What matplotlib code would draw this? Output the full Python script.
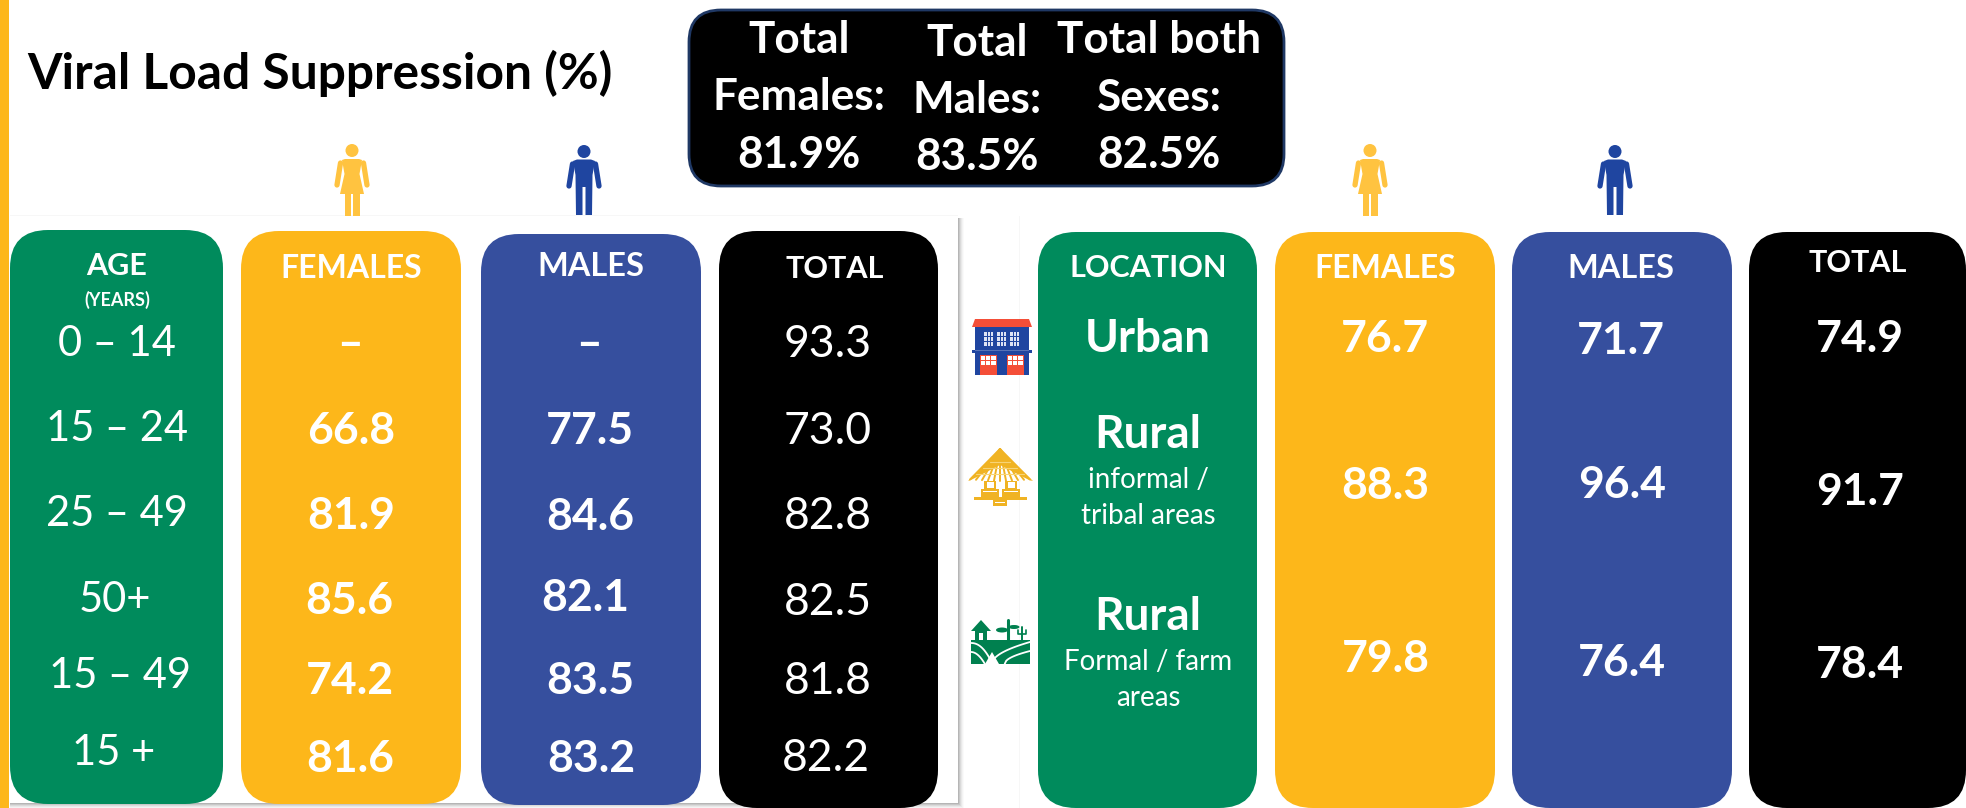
import matplotlib
matplotlib.use("Agg")
import matplotlib.pyplot as plt
from matplotlib.patches import FancyBboxPatch, Rectangle, Polygon, Ellipse
import numpy as np

plt.rcParams['font.family'] = ['Lato', 'DejaVu Sans']

# ---------- data ----------
age_groups = ["0 – 14", "15 – 24", "25 – 49", "50+", "15 – 49", "15 +"]
females_age = ["–", "66.8", "81.9", "85.6", "74.2", "81.6"]
males_age = ["–", "77.5", "84.6", "82.1", "83.5", "83.2"]
total_age = ["93.3", "73.0", "82.8", "82.5", "81.8", "82.2"]
females_loc = ["76.7", "88.3", "79.8"]
males_loc = ["71.7", "96.4", "76.4"]
total_loc = ["74.9", "91.7", "78.4"]
summary_heads = [["Total", "Females:"], ["Total", "Males:"], ["Total both", "Sexes:"]]
summary_vals = ["81.9%", "83.5%", "82.5%"]

# ---------- layout (pixels, y downwards) ----------
W, H = 1966, 808
GREEN, YEL, BLUE, BLK = "#008B5C", "#FDB71A", "#364F9E", "#000000"
ICON_Y, ICON_B, RED = "#FFC340", "#1F45A0", "#F44E38"

fig = plt.figure(figsize=(W / 100, H / 100), dpi=100, facecolor="white")
ax = fig.add_axes([0, 0, 1, 1])
ax.set_xlim(0, W)
ax.set_ylim(H, 0)
ax.axis("off")


def T(x, y, s, size, bold=False, color="white", ha="center"):
    # y is the visual centre of the capitals
    ax.text(x, y + 0.36 * size * 100 / 72, s, fontsize=size, color=color, ha=ha, va="baseline",
            fontweight="bold" if bold else "normal")


def box(x0, x1, y0, y1, color, r=38, z=2, ec="none", lw=0):
    ax.add_patch(FancyBboxPatch((x0, y0), x1 - x0, y1 - y0,
                                boxstyle=f"round,pad=0,rounding_size={r}",
                                fc=color, ec=ec, lw=lw, zorder=z, mutation_aspect=1))


def R(x0, y0, x1, y1, c, z=5, a=1):
    ax.add_patch(Rectangle((x0, y0), x1 - x0, y1 - y0, fc=c, ec="none", zorder=z, alpha=a))


def L(xs, ys, c, w=1.0, z=6):
    ax.plot(xs, ys, color=c, lw=w, zorder=z, solid_capstyle="round")


# side bar, panel shadow
R(0, 0, 9, H, YEL, z=1)
for i, g in enumerate(["#B5B5B5", "#C8C8C8", "#DADADA", "#E8E8E8", "#F3F3F3", "#FAFAFA"]):
    R(958 + i, 218, 959 + i, H, g, z=1)
    R(10, 803 + i, 964, 804 + i, g, z=1)
R(10, 215, 958, 216, "#F7F7F7", z=1)
R(1019, 216, 1020, H, "#F7F7F7", z=1)

# panels
panels = [(10, 223, 230, 804, GREEN), (241, 461, 231, 804, YEL), (481, 701, 234, 805, BLUE),
          (719, 938, 231, 808, BLK), (1038, 1257, 232, 808, GREEN), (1275, 1495, 232, 808, YEL),
          (1512, 1732, 232, 808, BLUE), (1749, 1966, 232, 808, BLK)]
for x0, x1, y0, y1, c in panels:
    box(x0, x1, y0, y1, c)

# title
T(27, 71, "Viral Load Suppression (%)", 35.8, True, "black", ha="left")

# summary box
box(689, 1284, 10, 186, BLK, r=32, z=3, ec="#1F3864", lw=2.0)
sum_x = [799, 977, 1159]
sum_y = [[37, 94], [40, 97], [37, 95]]
sum_vy = [152, 154, 152]
for k in range(3):
    for ln, yy in zip(summary_heads[k], sum_y[k]):
        T(sum_x[k], yy, ln, 31.8, True)
    T(sum_x[k], sum_vy[k], summary_vals[k], 31.8, True)

# headers
T(117, 264, "AGE", 22, True)
T(117, 299, "(YEARS)", 13, True)
T(351, 266, "FEMALES", 23, True)
T(591, 264, "MALES", 23.4, True)
T(835, 267, "TOTAL", 22, True)
T(1148, 266, "LOCATION", 22, True)
T(1385, 266, "FEMALES", 23, True)
T(1621, 266, "MALES", 23.4, True)
T(1858, 261, "TOTAL", 22, True)

# age table
for s, x, y in zip(age_groups, [117, 117, 117, 115, 120, 114], [341, 426, 511, 597, 673, 750]):
    T(x, y, s, 30)
for s, x, y in zip(females_age, [350, 351, 351, 349, 350, 350], [341, 428, 513, 598, 678, 756]):
    T(x, y, s, 32, True)
for s, x, y in zip(males_age, [589, 590, 590, 585, 590, 591], [341, 428, 514, 595, 678, 756]):
    T(x, y, s, 32, True)
for s, x, y in zip(total_age, [828, 828, 828, 828, 828, 826], [341, 428, 513, 599, 678, 755]):
    T(x, y, s, 32)

# location table
T(1148, 336, "Urban", 33, True)
T(1148, 432, "Rural", 33, True)
T(1148, 478, "informal /", 20)
T(1148, 514, "tribal areas", 20)
T(1148, 614, "Rural", 33, True)
T(1148, 660, "Formal / farm", 20)
T(1148, 696, "areas", 20)
for s, x, y in zip(females_loc, [1385, 1385, 1386], [336, 483, 656]):
    T(x, y, s, 32, True)
for s, x, y in zip(males_loc, [1621, 1622, 1622], [338, 482, 660]):
    T(x, y, s, 32, True)
for s, x, y in zip(total_loc, [1860, 1860, 1860], [336, 489, 662]):
    T(x, y, s, 32, True)


# ---------- pictograms ----------
def arms(cx, top, c):
    for sgn in (-1, 1):
        L([cx + sgn * 11.5, cx + sgn * 15], [top + 19, top + 41], c, w=3.8)


def female(cx, top, bottom, c):
    ax.add_patch(Ellipse((cx, top + 6.5), 13, 13, fc=c, ec="none", zorder=6))
    arms(cx, top, c)
    pts = [(-10, 16), (-7, 15), (7, 15), (10, 16), (7.5, 30), (12, 50), (-12, 50), (-7.5, 30)]
    ax.add_patch(Polygon([(cx + a, top + b) for a, b in pts], fc=c, ec="none", zorder=6))
    R(cx - 7.5, top + 50, cx - 1.3, bottom, c, z=6)
    R(cx + 1.3, top + 50, cx + 7.5, bottom, c, z=6)


def male(cx, top, bottom, c):
    ax.add_patch(Ellipse((cx, top + 6.5), 13, 13, fc=c, ec="none", zorder=6))
    arms(cx, top, c)
    pts = [(-11, 16), (-7, 14.5), (7, 14.5), (11, 16), (8.5, 30), (8, 70), (1.5, 70), (1.5, 42),
           (-1.5, 42), (-1.5, 70), (-8, 70), (-8.5, 30)]
    ax.add_patch(Polygon([(cx + a, top + b) for a, b in pts], fc=c, ec="none", zorder=6))


female(352, 144, 216, ICON_Y)
male(584, 145, 215, ICON_B)
female(1370, 144, 216, ICON_Y)
male(1615, 145, 215, ICON_B)

# house
ax.add_patch(Polygon([(975, 319), (1029, 319), (1032, 327), (972, 327)], fc=RED, ec="none", zorder=6))
R(975, 327, 1029, 375, ICON_B)
R(972, 350, 1032, 353, ICON_B)
R(975, 350, 1029, 351, "white", z=6, a=0.25)
for x0 in (984, 997, 1010):
    R(x0, 332, x0 + 9, 346, "#DDE3F4", z=6)
    for d in (3, 6):
        R(x0 + d - 0.5, 332, x0 + d + 0.5, 346, ICON_B, z=7)
    for d in (4.7, 9.4):
        R(x0, 332 + d - 0.5, x0 + 9, 332 + d + 0.5, ICON_B, z=7)
for x0 in (980, 1007):
    R(x0, 355, x0 + 17, 375, RED, z=6)
    R(x0 + 1, 356, x0 + 16, 365, "white", z=7)
    for d in (5, 10):
        R(x0 + d, 356, x0 + d + 1, 365, RED, z=8)
    R(x0 + 1, 360, x0 + 16, 361, RED, z=8)

# hut
HUT = "#F0B323"
ax.add_patch(Polygon([(1000, 449), (1033, 481), (1029, 480), (1000, 465), (971, 480), (968, 481)],
                     fc=HUT, ec="none", zorder=6))
for dx in np.linspace(-30, 30, 11):
    L([1000, 1000 + dx], [449, 481 - abs(dx) * 0.05], HUT, 1.4)
for yy, half in ((462, 10), (468, 17), (474, 24)):
    L([1000 - half, 1000 + half], [yy, yy], "#F7D476", 0.8)
for x0 in (984, 1005):
    R(x0, 481, x0 + 12, 498, HUT, z=6)
    R(x0 + 2.5, 482, x0 + 9.5, 488, "white", z=7)
    R(x0 - 3, 489, x0 + 15, 497, HUT, z=7)
    R(x0 - 1, 491, x0 + 13, 492, "white", z=8)
R(974, 497, 1027, 500, HUT)
R(993, 500, 1007, 506, HUT)
R(995, 501.5, 1005, 503, "white", z=7)

# farm
FARM = "#00804F"
R(971, 640, 1030, 664, FARM)
ax.add_patch(Polygon([(971, 631), (981, 620), (991, 631)], fc=FARM, ec="none", zorder=6))
R(975, 630, 987, 640, FARM)
R(979, 633, 983, 640, "white", z=7)
L([1008, 1008], [620, 640], FARM, 2.2)
ax.add_patch(Ellipse((1002, 630), 12, 5, fc=FARM, ec="none", zorder=6))
ax.add_patch(Ellipse((1014, 627), 11, 4, fc=FARM, ec="none", zorder=6))
L([1022, 1022], [627, 640], FARM, 1.4)
L([1018, 1018, 1026, 1026], [630, 634, 634, 630], FARM, 1.2)
xs = np.linspace(971, 992, 20)
L(xs, 643 + 20 * ((xs - 971) / 21) ** 2.2, "white", 1.3)
L(xs[:14], 652 + 14 * ((xs[:14] - 971) / 15) ** 2, "white", 1.3)
xs2 = np.linspace(992, 1030, 25)
L(xs2, 664 - 22 * np.sqrt((xs2 - 992) / 38), "white", 1.3)
L(xs2[8:], 664 - 13 * np.sqrt((xs2[8:] - xs2[8]) / (1030 - xs2[8])), "white", 1.3)
ax.add_patch(Polygon([(985, 664), (992, 652), (999, 664)], fc="white", ec="none", zorder=6))

fig.savefig("out.png", dpi=100)
